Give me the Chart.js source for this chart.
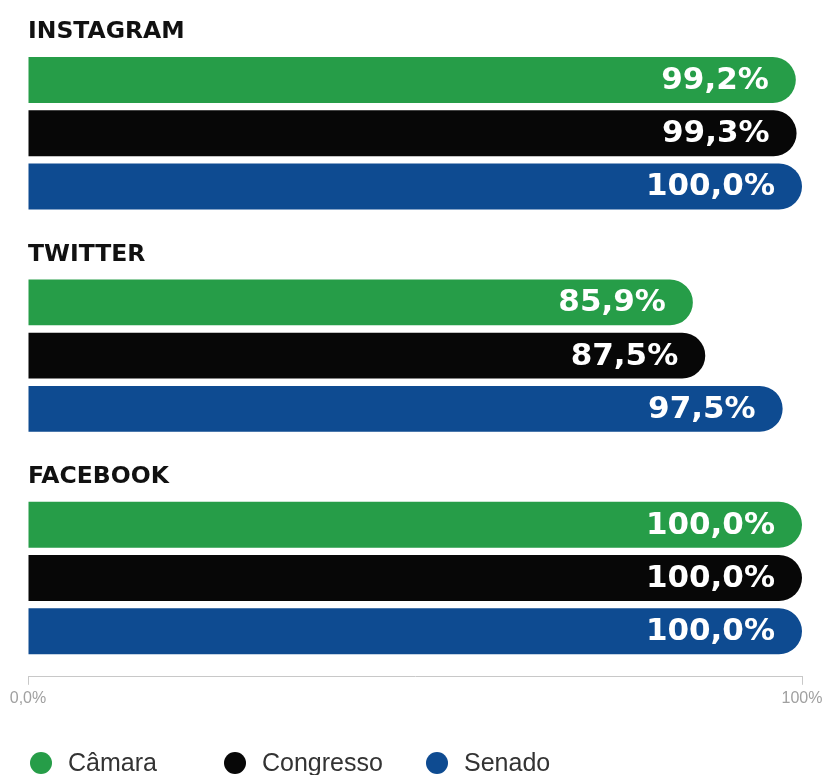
<!DOCTYPE html>
<html>
<head>
<meta charset="utf-8">
<script src="https://cdn.jsdelivr.net/npm/chart.js@4"></script>
<style>
  html, body { margin: 0; padding: 0; background: #fff; }
  #wrap { width: 823px; height: 775px; position: relative; }
</style>
</head>
<body>
<div id="wrap"><canvas id="chart"></canvas></div>
<script>
// dados
const platforms = ['INSTAGRAM', 'TWITTER', 'FACEBOOK'];
const camara = [99.2, 85.9, 100.0];
const congresso = [99.3, 87.5, 100.0];
const senado = [100.0, 97.5, 100.0];
const seriesNames = ['Câmara', 'Congresso', 'Senado'];
const seriesColors = ['#269d48', '#070707', '#0e4b91'];
const xTicks = [0, 100];
const xTickLabels = ['0,0%', '100%'];

function formatPct(v) {
  return v.toFixed(1).replace('.', ',') + '%';
}

const allSeries = [camara, congresso, senado];

// cabeçalhos acima de cada grupo (INSTAGRAM, TWITTER...)
const headerPlugin = {
  id: 'headers',
  afterDatasetsDraw(chart) {
    const ctx = chart.ctx;
    const y = chart.scales.y;
    ctx.save();
    ctx.font = 'bold 23.5px "DejaVu Sans"';
    ctx.fillStyle = '#111';
    ctx.textAlign = 'left';
    ctx.textBaseline = 'alphabetic';
    platforms.forEach((p, i) => {
      ctx.fillText(p, chart.chartArea.left, y.getPixelForValue(i) - 95);
    });
    ctx.restore();
  }
};

// valores dentro das barras
const valuePlugin = {
  id: 'values',
  afterDatasetsDraw(chart) {
    const ctx = chart.ctx;
    ctx.save();
    ctx.font = 'bold 31px "DejaVu Sans"';
    ctx.fillStyle = '#fff';
    ctx.textAlign = 'right';
    ctx.textBaseline = 'middle';
    chart.data.datasets.forEach((ds, di) => {
      const meta = chart.getDatasetMeta(di);
      meta.data.forEach((bar, i) => {
        ctx.fillText(formatPct(ds.data[i].x), bar.x - 27, bar.y + 1);
      });
    });
    ctx.restore();
  }
};

// legenda embaixo
const legendPlugin = {
  id: 'customLegend',
  afterDraw(chart) {
    const ctx = chart.ctx;
    const xs = [41, 235, 437];
    const yc = 763;
    ctx.save();
    ctx.font = '25px "Liberation Sans"';
    ctx.textBaseline = 'middle';
    ctx.textAlign = 'left';
    chart.data.datasets.forEach((ds, i) => {
      ctx.fillStyle = ds.backgroundColor;
      ctx.beginPath();
      ctx.arc(xs[i], yc, 11, 0, Math.PI * 2);
      ctx.fill();
      ctx.fillStyle = '#333';
      ctx.fillText(ds.label, xs[i] + 27, yc + 1);
    });
    ctx.restore();
  }
};

const datasets = seriesNames.map((name, si) => ({
  label: name,
  data: platforms.map((p, i) => ({ x: allSeries[si][i], y: i })),
  backgroundColor: seriesColors[si],
  borderRadius: 30,
  borderSkipped: 'start',
  categoryPercentage: 0.718,
  barPercentage: 0.863
}));

const ctx = document.getElementById('chart').getContext('2d');
new Chart(ctx, {
  type: 'bar',
  data: { datasets },
  options: {
    indexAxis: 'y',
    responsive: true,
    maintainAspectRatio: false,
    animation: false,
    layout: { padding: { left: 28, right: 21, top: 22, bottom: 63 } },
    plugins: {
      legend: { display: false },
      tooltip: { enabled: false }
    },
    scales: {
      y: {
        type: 'linear',
        min: -0.5,
        max: 2.444,
        reverse: true,
        offset: false,
        display: false,
        // um tick por grupo, senão a largura das barras encolhe
        afterBuildTicks: (scale) => { scale.ticks = platforms.map((p, i) => ({ value: i })); }
      },
      x: {
        type: 'linear',
        min: 0,
        max: 100,
        afterBuildTicks: (scale) => { scale.ticks = xTicks.map(v => ({ value: v })); },
        // rótulo "100%" pode passar da borda da área
        afterFit: (scale) => { scale.paddingLeft = 0; scale.paddingRight = 0; },
        grid: { drawOnChartArea: false, drawTicks: true, tickLength: 8, color: '#c8c8c8' },
        border: { display: true, color: '#c8c8c8' },
        ticks: {
          autoSkip: false,
          maxRotation: 0,
          padding: 4,
          color: '#a0a0a0',
          font: { family: '"Liberation Sans"', size: 16 },
          callback: (v) => xTickLabels[xTicks.indexOf(v)]
        }
      }
    }
  },
  plugins: [headerPlugin, valuePlugin, legendPlugin]
});
</script>
</body>
</html>
